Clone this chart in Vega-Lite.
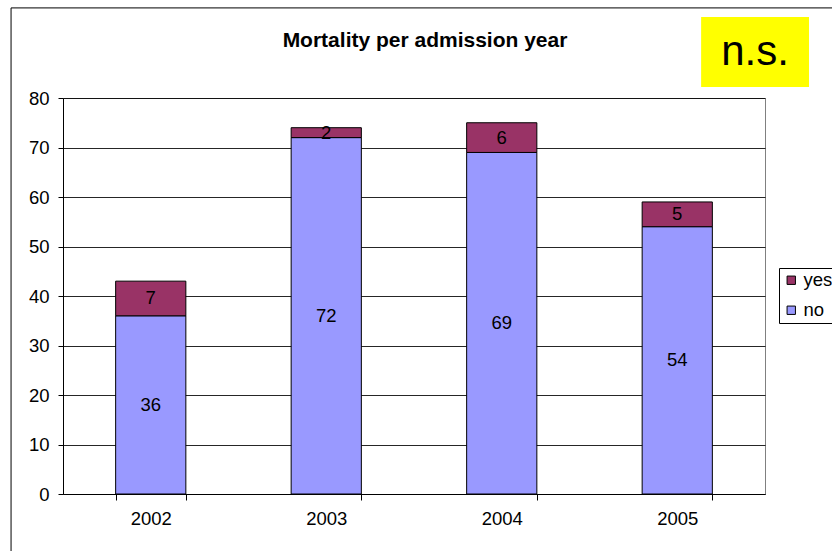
{
  "$schema": "https://vega.github.io/schema/vega-lite/v6.json",
  "width": 702,
  "height": 396,
  "autosize": {"type": "none"},
  "padding": {"left": 63, "top": 98, "right": 67, "bottom": 57},
  "background": "white",
  "config": {
    "font": "Liberation Sans",
    "view": {"stroke": "#808080", "strokeWidth": 1},
    "axis": {"labelFont": "Liberation Sans", "labelColor": "#000", "domainColor": "#000", "tickColor": "#000"}
  },
  "title": {
    "text": "Mortality per admission year",
    "fontSize": 21,
    "fontWeight": "bold",
    "font": "Liberation Sans",
    "color": "#000",
    "anchor": "middle",
    "frame": "group",
    "baseline": "alphabetic",
    "offset": -61,
    "dx": 11
  },
  "datasets": {
    "mortality": [
      {"year": "2002", "status": "no", "count": 36},
      {"year": "2002", "status": "yes", "count": 7},
      {"year": "2003", "status": "no", "count": 72},
      {"year": "2003", "status": "yes", "count": 2},
      {"year": "2004", "status": "no", "count": 69},
      {"year": "2004", "status": "yes", "count": 6},
      {"year": "2005", "status": "no", "count": 54},
      {"year": "2005", "status": "yes", "count": 5}
    ],
    "note": [{"label": "n.s."}]
  },
  "layer": [
    {
      "data": {"name": "mortality"},
      "transform": [
        {"stack": "count", "groupby": ["year"], "sort": [{"field": "status", "order": "ascending"}], "as": ["y0", "y1"]},
        {"calculate": "(datum.y0 + datum.y1) / 2", "as": "ymid"}
      ],
      "layer": [
        {
          "mark": {"type": "bar", "stroke": "#000", "strokeWidth": 1},
          "encoding": {
            "x": {
              "field": "year", "type": "nominal",
              "scale": {"paddingInner": 0.6, "paddingOuter": 0.3},
              "axis": {"title": null, "labelAngle": 0, "tickBand": "extent", "tickSize": 6, "labelPadding": 9, "labelFontSize": 18.5, "grid": false, "domainWidth": 1}
            },
            "y": {
              "field": "y1", "type": "quantitative",
              "scale": {"domain": [0, 80], "nice": false},
              "axis": {"title": null, "values": [0, 10, 20, 30, 40, 50, 60, 70, 80], "tickSize": 5, "labelPadding": 9, "labelFontSize": 18.5, "grid": true, "gridColor": "#000", "gridOpacity": 0.85, "gridWidth": 1}
            },
            "y2": {"field": "y0"},
            "color": {
              "field": "status", "type": "nominal",
              "scale": {"domain": ["yes", "no"], "range": ["#993366", "#9999FF"]},
              "legend": {
                "title": null, "orient": "none", "legendX": 716, "legendY": 170,
                "strokeColor": "#000", "padding": 3, "symbolType": "square", "symbolSize": 70,
                "symbolStrokeColor": "#000", "symbolStrokeWidth": 1, "labelFontSize": 18.5,
                "labelFont": "Liberation Sans", "labelColor": "#000", "rowPadding": 11, "labelOffset": 3
              }
            }
          }
        },
        {
          "mark": {"type": "text", "fontSize": 18.5, "color": "#000", "baseline": "middle"},
          "encoding": {
            "x": {"field": "year", "type": "nominal"},
            "y": {"field": "ymid", "type": "quantitative"},
            "text": {"field": "count", "type": "quantitative"}
          }
        }
      ]
    },
    {
      "data": {"name": "note"},
      "layer": [
        {
          "mark": {"type": "rect", "fill": null, "stroke": "#000", "strokeWidth": 1, "clip": false},
          "encoding": {
            "x": {"datum": -0.074, "type": "quantitative", "scale": {"domain": [0, 1], "nice": false, "zero": false}, "axis": null},
            "x2": {"datum": 1.2},
            "y": {"datum": 98.2, "type": "quantitative", "scale": {"domain": [0, 80], "nice": false}, "axis": null},
            "y2": {"datum": -15}
          }
        },
        {
          "mark": {"type": "rect", "fill": "#FFFF00", "clip": false},
          "encoding": {
            "x": {"datum": 0.909, "type": "quantitative"},
            "x2": {"datum": 1.0627},
            "y": {"datum": 96.36, "type": "quantitative"},
            "y2": {"datum": 82.22}
          }
        },
        {
          "mark": {"type": "text", "fontSize": 42, "color": "#000", "baseline": "middle", "align": "center", "clip": false},
          "encoding": {
            "x": {"datum": 0.9858, "type": "quantitative"},
            "y": {"datum": 89.3, "type": "quantitative"},
            "text": {"field": "label"}
          }
        }
      ]
    }
  ],
  "resolve": {"scale": {"x": "independent", "y": "independent"}, "axis": {"x": "independent", "y": "independent"}}
}
